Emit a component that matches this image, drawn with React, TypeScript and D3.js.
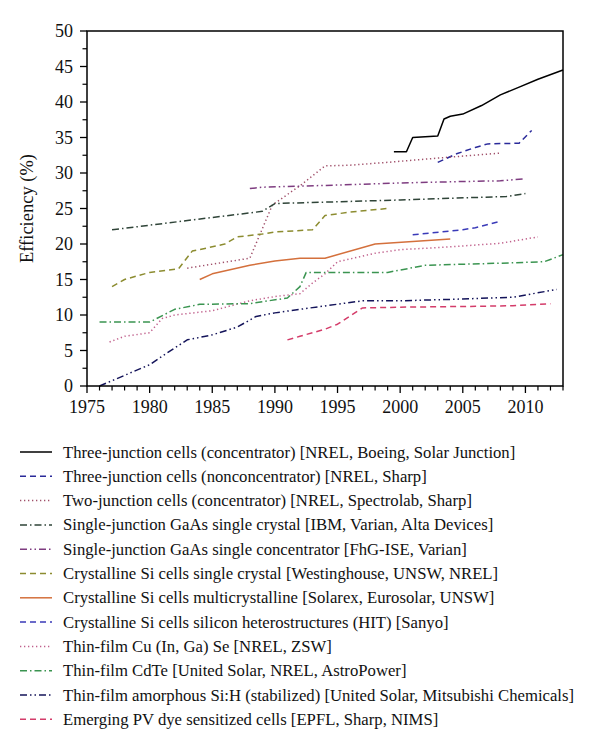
import React from "react"
import * as d3 from "d3"

type Pt = [number, number]

// series values (year, efficiency %)
const threeJunctionConc: Pt[] = [[1999.5, 33], [2000.5, 33], [2001, 35], [2003, 35.2], [2003.5, 37.6], [2004, 38], [2005, 38.3], [2006.5, 39.5], [2008, 41], [2009.5, 42.1], [2011, 43.2], [2013, 44.5]]
const threeJunctionNonConc: Pt[] = [[2003, 31.5], [2004.5, 32.7], [2006, 33.6], [2007, 34.1], [2009.5, 34.2], [2010.5, 36]]
const twoJunctionConc: Pt[] = [[1983, 16.6], [1988, 18], [1989.8, 25.5], [1992, 28.2], [1994, 31], [1996, 31.1], [1999, 31.5], [2003, 32.1], [2008, 32.8]]
const gaasCrystal: Pt[] = [[1977, 22], [1989, 24.6], [1990, 25.7], [1994, 25.9], [2000, 26.2], [2008.5, 26.7], [2010, 27.1]]
const gaasConc: Pt[] = [[1988, 27.8], [1989, 28], [1995, 28.3], [2000, 28.6], [2005, 28.8], [2008, 28.9], [2010, 29.2]]
const siCrystal: Pt[] = [[1977, 14], [1978, 15], [1980, 16], [1982.3, 16.5], [1983.4, 19], [1985, 19.6], [1986, 20], [1987, 21], [1989, 21.4], [1990, 21.7], [1993, 22], [1994, 24], [1996, 24.5], [1999, 25]]
const siMulti: Pt[] = [[1984, 15], [1985, 15.8], [1988, 17], [1990, 17.6], [1992, 18], [1994, 18], [1998, 20], [2004, 20.7]]
const siHit: Pt[] = [[2001, 21.3], [2005, 22], [2006, 22.3], [2008, 23.2]]
const cigs: Pt[] = [[1976.8, 6.2], [1978, 7], [1980, 7.5], [1981, 9.5], [1982, 10], [1985, 10.6], [1988, 12], [1990, 12.6], [1992, 13], [1993, 14.5], [1994, 15.8], [1995, 17.5], [1998, 18.7], [2000, 19.2], [2004, 19.6], [2008, 20.1], [2011, 21]]
const cdte: Pt[] = [[1976, 9], [1980, 9], [1982, 10.8], [1984, 11.5], [1988, 11.6], [1991, 12.4], [1992, 14], [1992.5, 16], [1999, 16], [2002, 17], [2008, 17.3], [2011.5, 17.5], [2013, 18.5]]
const amorphousSi: Pt[] = [[1976, 0], [1978, 1.5], [1980, 3], [1981, 4.2], [1983, 6.5], [1985, 7.2], [1987, 8.3], [1988.5, 9.8], [1990, 10.3], [1992, 10.8], [1997, 12], [2000, 12], [2004, 12.2], [2009, 12.5], [2012.5, 13.6]]
const dyeCells: Pt[] = [[1991, 6.5], [1992, 7], [1994, 8], [1995, 8.7], [1997, 11], [2000, 11.1], [2005, 11.2], [2009, 11.3], [2012, 11.6]]

const seriesLabels = [
    "Three-junction cells (concentrator) [NREL, Boeing, Solar Junction]",
    "Three-junction cells (nonconcentrator) [NREL, Sharp]",
    "Two-junction cells (concentrator) [NREL, Spectrolab, Sharp]",
    "Single-junction GaAs single crystal [IBM, Varian, Alta Devices]",
    "Single-junction GaAs single concentrator [FhG-ISE, Varian]",
    "Crystalline Si cells single crystal [Westinghouse, UNSW, NREL]",
    "Crystalline Si cells multicrystalline [Solarex, Eurosolar, UNSW]",
    "Crystalline Si cells silicon heterostructures (HIT) [Sanyo]",
    "Thin-film Cu (In, Ga) Se [NREL, ZSW]",
    "Thin-film CdTe [United Solar, NREL, AstroPower]",
    "Thin-film amorphous Si:H (stabilized) [United Solar, Mitsubishi Chemicals]",
    "Emerging PV dye sensitized cells [EPFL, Sharp, NIMS]",
]
const seriesData = [threeJunctionConc, threeJunctionNonConc, twoJunctionConc, gaasCrystal, gaasConc, siCrystal, siMulti, siHit, cigs, cdte, amorphousSi, dyeCells]

const xTicks = [1975, 1980, 1985, 1990, 1995, 2000, 2005, 2010]
const yTicks = [0, 5, 10, 15, 20, 25, 30, 35, 40, 45, 50]

// styles
const colors = ["#000000", "#2a2a9a", "#a0506a", "#2f4438", "#7e3c80", "#8c8c30", "#d4703c", "#3a3ab8", "#c0608c", "#3a9450", "#14145a", "#d43c6a"]
const DASH = "6,4"
const DOT = "1.3,2.7"
const DASHDOT = "7,3,1.5,3"
const DASHDOTDOT = "7,3,1.5,3,1.5,3"
const dashes = ["none", DASH, DOT, DASHDOT, DASHDOTDOT, DASH, "none", DASH, DOT, DASHDOT, DASHDOTDOT, DASH]

const W = 600
const H = 751
const margin = { top: 31, right: 37, left: 87, bottom: 365 }
const FONT = "'Liberation Serif', 'Times New Roman', serif"

export default function App() {
    const innerW = W - margin.left - margin.right
    const innerH = H - margin.top - margin.bottom

    const x = d3.scaleLinear().domain([1975, 2013]).range([0, innerW])
    const y = d3.scaleLinear().domain([0, 50]).range([innerH, 0])

    const line = d3.line<Pt>().x(d => x(d[0])).y(d => y(d[1]))

    const yearTicks = d3.range(1975, 2014)
    const minorY = d3.range(0, 50.01, 2.5).filter(v => v % 5 !== 0)

    const legendTop = 452
    const legendStep = 24.3

    return (
        <svg width={W} height={H} style={{ position: "absolute", left: 0, top: 0, background: "#fff" }} fontFamily={FONT}>
            <rect width={W} height={H} fill="#fff" />
            <g transform={`translate(${margin.left},${margin.top})`}>
                {/* series */}
                {seriesData.map((s, i) => (
                    <path key={i} d={line(s) || ""} fill="none" stroke={colors[i]} strokeWidth={1.5}
                        strokeDasharray={dashes[i]} strokeLinejoin="round" />
                ))}

                {/* frame */}
                <rect x={0} y={0} width={innerW} height={innerH} fill="none" stroke="#000" strokeWidth={1.5} />

                {/* y axis */}
                {yTicks.map(t => (
                    <g key={t} transform={`translate(0,${y(t)})`}>
                        <line x1={-7} x2={0} stroke="#000" strokeWidth={1.3} />
                        <text x={-14} dy="0.35em" textAnchor="end" fontSize={18} fill="#111">{t}</text>
                    </g>
                ))}
                {minorY.map(t => (
                    <line key={t} x1={-4.5} x2={0} y1={y(t)} y2={y(t)} stroke="#000" strokeWidth={1.2} />
                ))}

                {/* x axis */}
                {yearTicks.map(t => (
                    <line key={t} x1={x(t)} x2={x(t)} y1={innerH} y2={innerH + (t % 5 === 0 ? 7 : 4.5)}
                        stroke="#000" strokeWidth={t % 5 === 0 ? 1.3 : 1.2} />
                ))}
                {xTicks.map(t => (
                    <text key={t} x={x(t)} y={innerH + 27} textAnchor="middle" fontSize={18} fill="#111">{t}</text>
                ))}

                <text transform={`translate(${-54},${innerH / 2}) rotate(-90)`} textAnchor="middle" fontSize={18.5} fill="#111">
                    Efficiency (%)
                </text>
            </g>

            {/* legend */}
            {seriesLabels.map((label, i) => {
                const ly = legendTop + i * legendStep
                return (
                    <g key={label}>
                        <line x1={20} x2={52} y1={ly} y2={ly} stroke={colors[i]} strokeWidth={1.5} strokeDasharray={dashes[i]} />
                        <text x={63} y={ly} dy="0.33em" fontSize={16.7} fill="#111">{label}</text>
                    </g>
                )
            })}
        </svg>
    )
}
